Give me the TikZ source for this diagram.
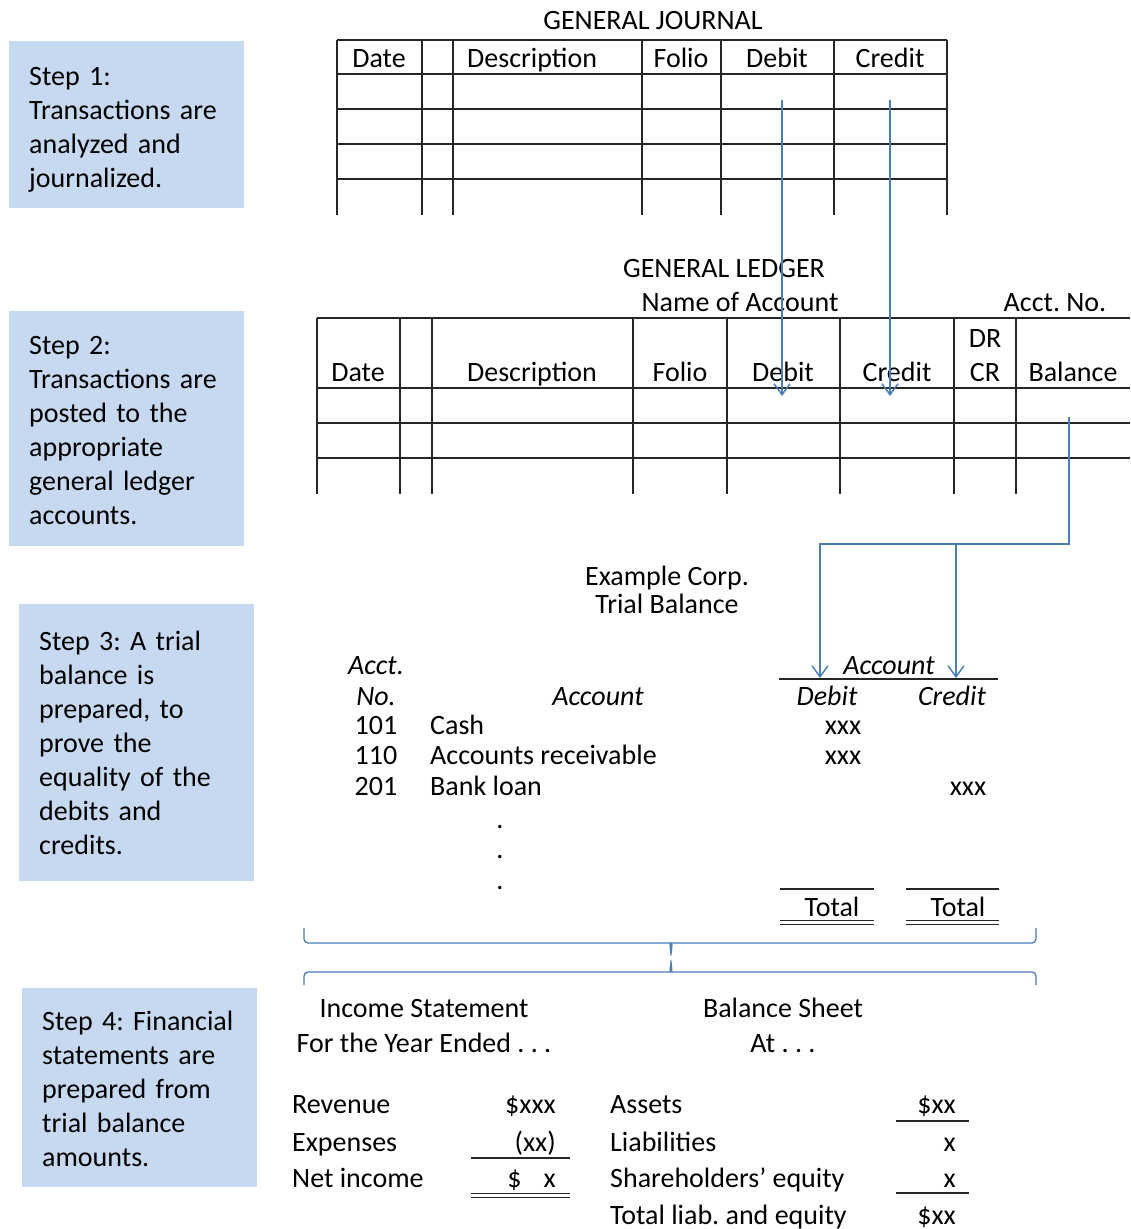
\documentclass[tikz,border=0pt]{standalone}
\usepackage{fontspec}
\setmainfont{Carlito}
\usepackage{xcolor}
\usepackage{tikz}
\usetikzlibrary{arrows.meta,positioning}
\definecolor{stepfill}{RGB}{198,217,240}
\definecolor{linkblue}{RGB}{74,126,187}
\newcommand{\bodytxt}{\fontsize{28pt}{34pt}\selectfont}
\frenchspacing
\hyphenpenalty=10000
\tikzset{
    stepbox/.style={
        rectangle,
        fill=stepfill,
        align=left,
        anchor=north west,
        inner xsep=20pt,
        text width=195pt
    },
    txt/.style={inner sep=0pt, anchor=base},
    ital/.style={txt, font=\bodytxt\itshape},
    leftcol/.style={txt, anchor=base west},
    amount/.style={txt, anchor=base east},
    ruling/.style={line width=1.3pt, black!85},
    posting/.style={linkblue, line width=1.5pt, -{Straight Barb[length=11pt,width=16pt]}},
    curly/.style={linkblue, line width=1.3pt, rounded corners=4pt}
}

\begin{document}
\begin{tikzpicture}[x=1pt, y=-1pt, font=\bodytxt]
        \useasboundingbox (0,0) rectangle (1130,1229);

        \node[stepbox, minimum height=167pt] (step1) at (9,41)
            {\rule{0pt}{28pt}Step 1:\\Transactions are\\analyzed and\\journalized.};
        \node[stepbox, minimum height=235pt, below=102pt of step1] (step2)
            {\rule{0pt}{23pt}Step 2:\\Transactions are\\posted to the\\appropriate\\general ledger\\accounts.};
        \node[stepbox, minimum height=277pt] (step3) at (19,604)
            {Step 3: A trial\\balance is\\prepared, to\\prove the\\equality of the\\debits and\\credits.};
        \node[stepbox, minimum height=199pt, below=106pt of step3, xshift=3pt] (step4)
            {\rule{0pt}{23pt}Step 4: Financial\\statements are\\prepared from\\trial balance\\amounts.};

        \node[txt] (gjtitle) at (653,29) {GENERAL JOURNAL};
        \foreach \y in {40,74,109,144,179}
            \draw[ruling] (337,\y) -- (947,\y);
        \foreach \x in {337,422,453,642,721,834,947}
            \draw[ruling] (\x,40) -- (\x,215);
        \node[txt] (gjdate) at (379,67) {Date};
        \node[leftcol] (gjdesc) at (467,67) {Description};
        \node[txt] (gjfolio) at (681,67) {Folio};
        \node[txt] (gjdebit) at (777,67) {Debit};
        \node[txt] (gjcredit) at (890,67) {Credit};

        \node[txt] (gltitle) at (724,277) {GENERAL LEDGER};
        \node[txt] (glname) at (740,311) {Name of Account};
        \node[txt] (glno) at (1055,311) {Acct. No.};
        \foreach \y in {318,388,423,458}
            \draw[ruling] (317,\y) -- (1130,\y);
        \foreach \x in {317,400,432,633,727,840,954,1016}
            \draw[ruling] (\x,318) -- (\x,494);
        \node[txt] (gldate) at (358,381) {Date};
        \node[txt] (gldesc) at (532,381) {Description};
        \node[txt] (glfolio) at (680,381) {Folio};
        \node[txt] (gldebit) at (783,381) {Debit};
        \node[txt] (glcredit) at (897,381) {Credit};
        \node[txt] (gldr) at (985,347) {DR};
        \node[txt] (glcr) at (985,381) {CR};
        \node[txt] (glbal) at (1073,381) {Balance};

        \coordinate (jdr) at (782,100);
        \coordinate (jcr) at (890,100);
        \coordinate (ldr) at (782,396);
        \coordinate (lcr) at (890,396);
        \draw[posting] (jdr) -- (ldr);
        \draw[posting] (jcr) -- (lcr);

        \node[txt] (corp) at (667,585) {Example Corp.};
        \node[txt] (tbtitle) at (667,613) {Trial Balance};
        \node[ital] (tbacct) at (376,674) {Acct.};
        \node[ital] (tbno) at (376,705) {No.};
        \node[ital] (tbaccthd) at (598,705) {Account};
        \node[ital] (tbcolhd) at (889,674) {Account};
        \node[ital] (tbdebit) at (827,705) {Debit};
        \node[ital] (tbcredit) at (952,705) {Credit};
        \draw[ruling] (779,679) -- (998,679);
        \foreach \n/\no/\name/\yb in {cash/101/Cash/734, ar/110/Accounts receivable/764, loan/201/Bank loan/795}{
            \node[txt] (no\n) at (376,\yb) {\no};
            \node[leftcol] (nm\n) at (430,\yb) {\name};
        }
        \node[txt] (xcash) at (843,734) {xxx};
        \node[txt] (xar) at (843,764) {xxx};
        \node[txt] (xloan) at (968,795) {xxx};
        \foreach \k/\yb in {1/828,2/858,3/889}
            \node[txt] (dot\k) at (500,\yb) {.};
        \draw[ruling] (780,889) -- (874,889);
        \draw[ruling] (906,889) -- (999,889);
        \node[txt] (totdr) at (832,916) {Total};
        \node[txt] (totcr) at (958,916) {Total};
        \foreach \y in {920,924}{
            \draw[black!85, line width=1pt] (780,\y) -- (874,\y);
            \draw[black!85, line width=1pt] (906,\y) -- (999,\y);
        }

        \coordinate (lbal) at (1069,417);
        \coordinate (corner) at (820,544);
        \coordinate (split) at (956,544);
        \coordinate (tbdr) at (820,678);
        \coordinate (tbcr) at (956,678);
        \draw[posting] (lbal) |- (corner) -- (tbdr);
        \draw[posting] (split) -- (tbcr);

        \coordinate (brA) at (304,928);
        \coordinate (brB) at (1036,928);
        \coordinate (brC) at (304,985);
        \coordinate (brD) at (1036,985);
        \coordinate (brtip) at (671,958);
        \draw[curly] (brA) |- (667,943) to[out=0,in=90] (brtip)
            to[out=90,in=180] (675,943) -| (brB);
        \draw[curly] (brC) |- (667,972) to[out=0,in=-90] (brtip)
            to[out=-90,in=180] (675,972) -| (brD);

        \node[txt] (istitle) at (424,1017) {Income Statement};
        \node[txt] (isperiod) at (424,1052) {For the Year Ended . . .};
        \node[txt] (bstitle) at (783,1017) {Balance Sheet};
        \node[txt] (bsdate) at (783,1052) {At . . .};
        \node[leftcol] (rev) at (292,1113) {Revenue};
        \node[amount] (revamt) at (556,1113) {\$xxx};
        \node[leftcol] (exp) at (292,1151) {Expenses};
        \node[amount] (expamt) at (556,1151) {(xx)};
        \node[leftcol] (ni) at (292,1187) {Net income};
        \node[amount] (niamt) at (556,1187) {\$\hspace{22pt}x};
        \draw[ruling] (471,1158) -- (570,1158);
        \draw[black!85, line width=1pt] (471,1193) -- (570,1193);
        \draw[black!85, line width=1pt] (471,1197) -- (570,1197);

        \node[leftcol] (assets) at (610,1113) {Assets};
        \node[amount] (assetsamt) at (956,1113) {\$xx};
        \draw[black!85, line width=2.5pt] (896,1121) -- (969,1121);
        \node[leftcol] (liab) at (610,1151) {Liabilities};
        \node[amount] (liabamt) at (956,1151) {x};
        \node[leftcol] (equity) at (610,1187) {Shareholders’ equity};
        \node[amount] (eqamt) at (956,1187) {x};
        \draw[ruling] (896,1193) -- (969,1193);
        \node[leftcol] (total) at (610,1224) {Total liab. and equity};
        \node[amount] (totamt) at (956,1224) {\$xx};
    \end{tikzpicture}
\end{document}
